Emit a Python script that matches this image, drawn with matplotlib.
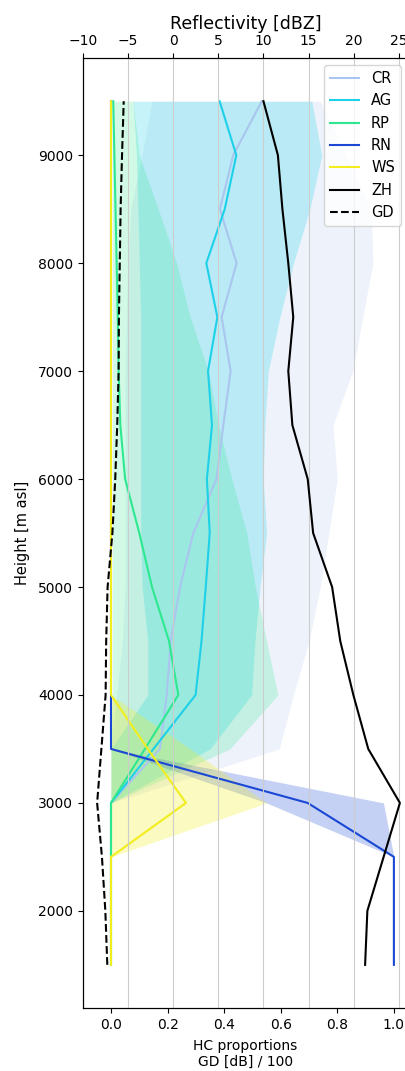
import numpy as np
import matplotlib
matplotlib.use('Agg')
import matplotlib.pyplot as plt

plt.rcParams['font.size'] = 10

# height levels [m asl], bottom to top
heights = [1500, 2000, 2500, 3000, 3500, 4000, 4500, 5000, 5500,
           6000, 6500, 7000, 7500, 8000, 8500, 9000, 9500]

# hydrometeor class proportions (median)
cr = [0, 0, 0, 0, 0.173, 0.197, 0.211, 0.244, 0.291, 0.373, 0.397, 0.423, 0.391, 0.444, 0.385, 0.432, 0.533]
ag = [0, 0, 0, 0, 0.15, 0.299, 0.32, 0.335, 0.349, 0.339, 0.357, 0.343, 0.376, 0.337, 0.402, 0.443, 0.384]
rp = [0, 0, 0, 0, 0.12, 0.238, 0.205, 0.145, 0.10, 0.05, 0.033, 0.027, 0.024, 0.02, 0.016, 0.012, 0.008]
rn = [1.0, 1.0, 1.0, 0.695, 0, 0, 0, 0, 0, 0, 0, 0, 0, 0, 0, 0, 0]
ws = [0, 0, 0, 0.265, 0.13, 0, 0, 0, 0, 0, 0, 0, 0, 0, 0, 0, 0]

# spread (lower / upper)
cr_lo = [0, 0, 0, 0, 0.0, 0.02, 0.04, 0.05, 0.05, 0.05, 0.05, 0.05, 0.055, 0.06, 0.07, 0.11, 0.145]
cr_hi = [0, 0, 0, 0, 0.595, 0.645, 0.70, 0.74, 0.77, 0.80, 0.785, 0.855, 0.89, 0.926, 0.92, 0.83, 0.74]
ag_lo = [0, 0, 0, 0, 0.0, 0.13, 0.13, 0.11, 0.105, 0.105, 0.105, 0.105, 0.105, 0.10, 0.095, 0.09, 0.078]
ag_hi = [0, 0, 0, 0, 0.35, 0.497, 0.509, 0.527, 0.55, 0.538, 0.544, 0.556, 0.597, 0.645, 0.703, 0.745, 0.71]
rp_lo = [0, 0, 0, 0, 0.0, 0.005, 0.005, 0.005, 0.005, 0.005, 0.005, 0.005, 0.005, 0.005, 0.005, 0.005, 0.005]
rp_hi = [0, 0, 0, 0, 0.42, 0.59, 0.55, 0.51, 0.48, 0.427, 0.38, 0.344, 0.28, 0.232, 0.167, 0.10, 0.078]
rn_lo = [1.0, 1.0, 1.0, 0.55, 0, 0, 0, 0, 0, 0, 0, 0, 0, 0, 0, 0, 0]
rn_hi = [1.0, 1.0, 1.0, 0.963, 0, 0, 0, 0, 0, 0, 0, 0, 0, 0, 0, 0, 0]
ws_lo = [0] * 17
ws_hi = [0, 0, 0, 0.55, 0.28, 0, 0, 0, 0, 0, 0, 0, 0, 0, 0, 0, 0]

# reflectivity [dBZ] and GD [dB]/100
zh = [21.25, 21.5, 23.3, 25.1, 21.6, 19.95, 18.5, 17.6, 15.5, 14.9, 13.2, 12.75, 13.3, 12.75, 12.1, 11.6, 10.0]
gd = [-0.013, -0.02, -0.032, -0.049, -0.034, -0.019, -0.017, -0.012, 0.005, 0.015,
      0.022, 0.027, 0.028, 0.031, 0.034, 0.039, 0.045]

zh_ticks = [-10, -5, 0, 5, 10, 15, 20, 25]

colors = {'CR': '#aac6ee', 'AG': '#1ed0e8', 'RP': '#2ee890', 'RN': '#1a48d4', 'WS': '#f2ee1e'}
alphas = {'CR': 0.2, 'AG': 0.25, 'RP': 0.22, 'RN': 0.25, 'WS': 0.28}

fig = plt.figure(figsize=(4.06, 10.71), dpi=100)
ax = fig.add_axes([0.2037, 0.0588, 0.8013, 0.887])
ax2 = ax.twiny()

series = [('CR', cr, cr_lo, cr_hi), ('AG', ag, ag_lo, ag_hi), ('RP', rp, rp_lo, rp_hi),
          ('RN', rn, rn_lo, rn_hi), ('WS', ws, ws_lo, ws_hi)]
handles = []
for name, val, lo, hi in series:
    ax.fill_betweenx(heights, lo, hi, color=colors[name], alpha=alphas[name], lw=0)
    h, = ax.plot(val, heights, color=colors[name], lw=1.5, label=name)
    handles.append(h)

hgd, = ax.plot(gd, heights, color='black', ls='--', lw=1.5, label='GD')
hzh, = ax2.plot(zh, heights, color='black', lw=1.5, label='ZH')
handles += [hzh, hgd]

ax.set_xlim(-0.1, 1.05)
ax.set_ylim(1100, 9900)
ax2.set_xlim(-10, 26)
ax2.set_xticks(zh_ticks)
ax2.grid(axis='x', color='#cccccc', lw=0.8)

ax.set_xlabel('HC proportions\nGD [dB] / 100', fontsize=10, labelpad=5)
ax.set_ylabel('Height [m asl]', fontsize=10.5, labelpad=6)
ax2.set_xlabel('Reflectivity [dBZ]', fontsize=12.5)

ax2.legend(handles=handles, loc='upper right', fontsize=10.5)

fig.savefig('out.png', dpi=100)
